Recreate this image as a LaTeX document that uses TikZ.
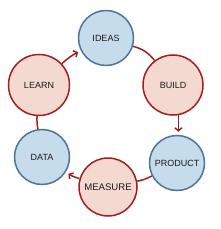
\documentclass[tikz,border=0pt]{standalone}
\usepackage{fontspec}
\setmainfont{Liberation Sans}
\usetikzlibrary{arrows.meta}
\definecolor{bfill}{HTML}{C6DCEA}
\definecolor{bline}{HTML}{4E749A}
\definecolor{rfill}{HTML}{F3D9CF}
\definecolor{rline}{HTML}{A51E1E}
\definecolor{txt}{HTML}{1A1A1A}
\begin{document}
\begin{tikzpicture}[x=1pt,y=-1pt,
  blue/.style={circle,draw=bline,fill=bfill,line width=1.5pt,minimum size=#1,inner sep=0pt,text=txt,font=\fontsize{9}{10}\selectfont},
  red/.style={circle,draw=rline,fill=rfill,line width=1.5pt,minimum size=#1,inner sep=0pt,text=txt,font=\fontsize{9}{10}\selectfont},
  conn/.style={draw=rline,line width=1.5pt},
  arr/.style={conn,shorten >=3pt,-{Straight Barb[length=3pt,width=7pt,line width=1.5pt]}}]
\useasboundingbox (0,0) rectangle (220,229);
\node[blue=55pt] (ideas) at (106,38) {IDEAS};
\node[red=60pt] (build) at (173,85) {BUILD};
\node[blue=55pt] (product) at (177,163) {PRODUCT};
\node[red=58pt,font=\fontsize{9.6}{11}\selectfont] (measure) at (108,187) {MEASURE};
\node[blue=55pt] (data) at (42,157) {DATA};
\node[red=61pt] (learn) at (39,85) {LEARN};
\draw[conn] (ideas) to[bend left=18] (build);
\draw[arr] (build.-80) -- (build.-80 |- product.north);
\draw[conn] (product) to[bend left=8] (measure);
\draw[arr] (measure) to[bend left=8] (data);
\draw[conn] (data) to[bend left=6] (learn);
\draw[arr] (learn) to[bend left=8] (ideas);
\end{tikzpicture}
\end{document}
